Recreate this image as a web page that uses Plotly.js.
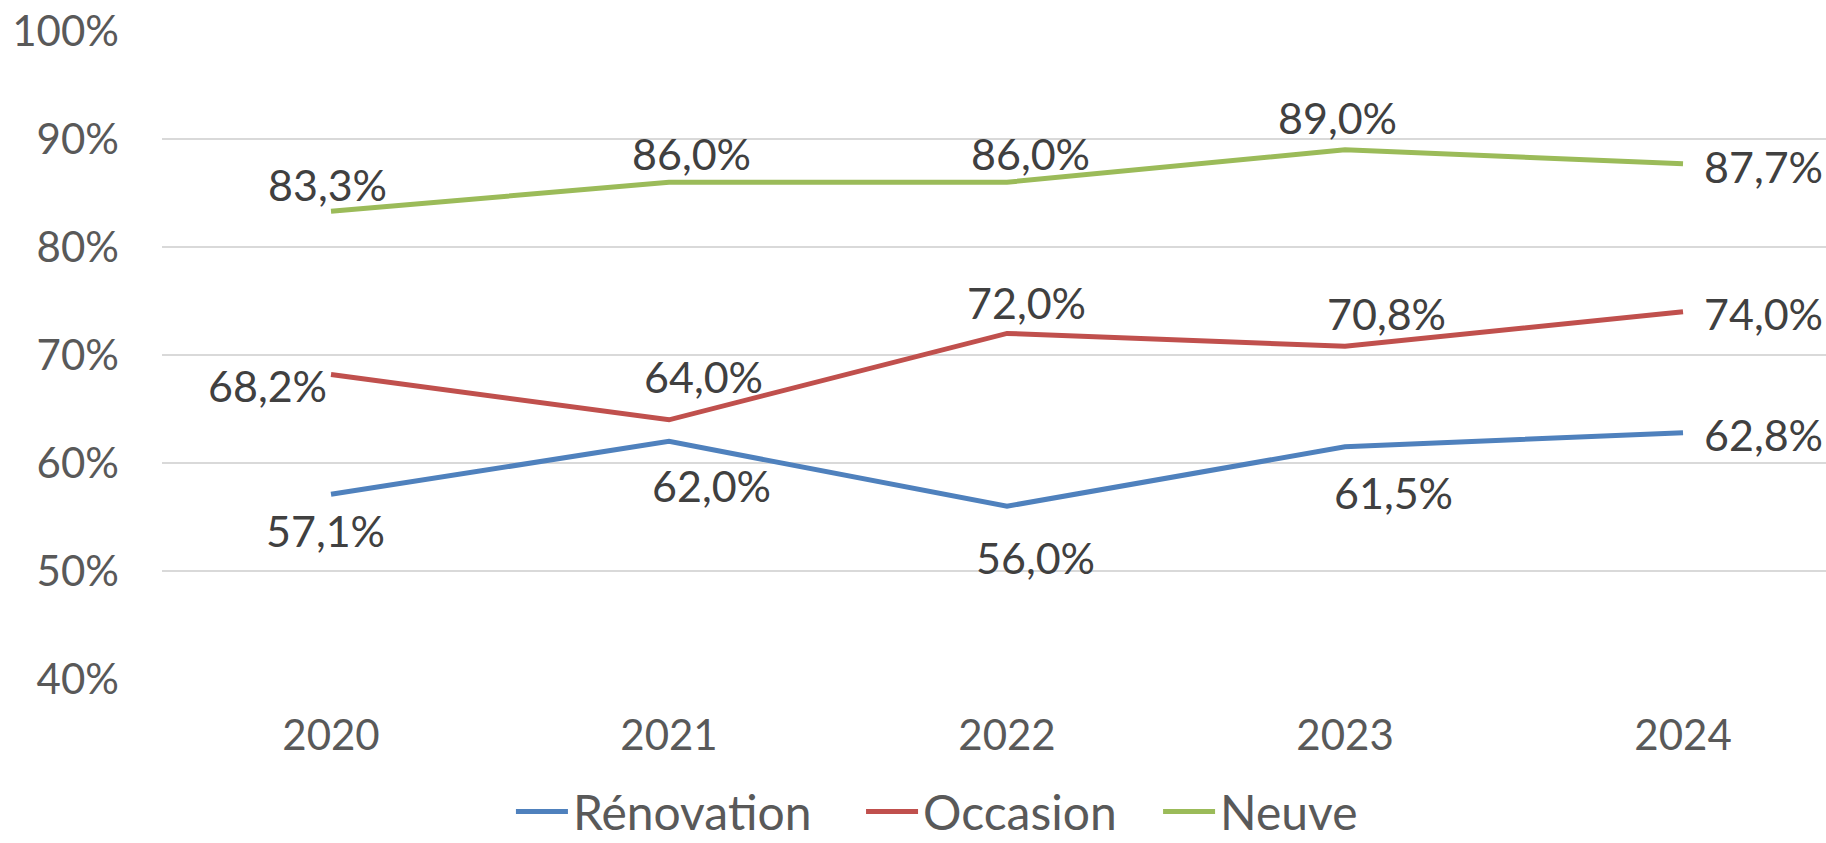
<!DOCTYPE html>
<html>
<head>
<meta charset="utf-8">
<script src="https://cdn.plot.ly/plotly-3.0.1.min.js"></script>
<style>
  html, body { margin: 0; padding: 0; background: #fff; }
  #chart { width: 1826px; height: 843px; }
</style>
</head>
<body>
<div id="chart"></div>
<script>
// data
var years = ['2020', '2021', '2022', '2023', '2024'];
var renovation = [57.1, 62.0, 56.0, 61.5, 62.8];
var occasion = [68.2, 64.0, 72.0, 70.8, 74.0];
var neuve = [83.3, 86.0, 86.0, 89.0, 87.7];
var yTicks = [40, 50, 60, 70, 80, 90, 100];

// where each data label sits relative to its point, in px [dx, dy]
var renovationShift = [[-6, -36], [42, -44], [28, -51], [48, -46], [80, -2]];
var occasionShift = [[-64, -11], [34, 43], [19, 31], [41, 33], [80, -2]];
var neuveShift = [[-4, 27], [22, 29], [23, 29], [-8, 32], [80, -3]];

var labelFont = 'Lato, "Open Sans", sans-serif';

// french style number: 83,3%
function fmt(v) {
  return v.toFixed(1).replace('.', ',') + '%';
}

function makeTrace(name, values, colour, legendId) {
  return {
    x: years,
    y: values,
    name: name,
    legend: legendId,
    type: 'scatter',
    mode: 'lines',
    line: {color: colour, width: 5},
    hoverinfo: 'x+y'
  };
}

// annotations on a category axis take the category index
function makeLabels(values, shifts) {
  return values.map(function (v, i) {
    return {
      xref: 'x',
      yref: 'y',
      x: i,
      y: v,
      text: fmt(v),
      showarrow: false,
      xanchor: 'center',
      yanchor: 'middle',
      xshift: shifts[i][0],
      yshift: shifts[i][1],
      font: {family: labelFont, size: 43, color: '#404040'}
    };
  });
}

// one legend box per series so the entries can be spread like the original
function legendAt(x) {
  return {
    orientation: 'h',
    x: x,
    xanchor: 'left',
    y: -0.205,
    yanchor: 'middle',
    bgcolor: 'rgba(0,0,0,0)',
    font: {family: labelFont, size: 48, color: '#595959'},
    itemwidth: 52
  };
}

var data = [
  makeTrace('Rénovation', renovation, '#4F81BD', 'legend'),
  makeTrace('Occasion', occasion, '#C0504D', 'legend2'),
  makeTrace('Neuve', neuve, '#9BBB59', 'legend3')
];

var annotations = []
  .concat(makeLabels(renovation, renovationShift))
  .concat(makeLabels(occasion, occasionShift))
  .concat(makeLabels(neuve, neuveShift));

var layout = {
  width: 1826,
  height: 843,
  margin: {l: 162, r: 0, t: 31, b: 164, autoexpand: false},
  paper_bgcolor: '#fff',
  plot_bgcolor: '#fff',
  font: {family: labelFont, size: 42, color: '#595959'},
  showlegend: true,
  legend: legendAt(0.2097),
  legend2: legendAt(0.4201),
  legend3: legendAt(0.5986),
  annotations: annotations,
  xaxis: {
    type: 'category',
    range: [-0.5, 4.423],
    showgrid: false,
    zeroline: false,
    showline: false,
    ticks: '',
    ticklabelstandoff: 28,
    tickfont: {family: labelFont, size: 42, color: '#595959'}
  },
  yaxis: {
    range: [40, 100],
    tickvals: yTicks,
    ticktext: yTicks.map(function (v) { return v + '%'; }),
    showgrid: true,
    gridcolor: '#D9D9D9',
    gridwidth: 2,
    zeroline: false,
    showline: false,
    ticks: '',
    ticklabelstandoff: 42,
    tickfont: {family: labelFont, size: 42, color: '#595959'}
  }
};

Plotly.newPlot('chart', data, layout, {displayModeBar: false, staticPlot: true});
</script>
</body>
</html>
